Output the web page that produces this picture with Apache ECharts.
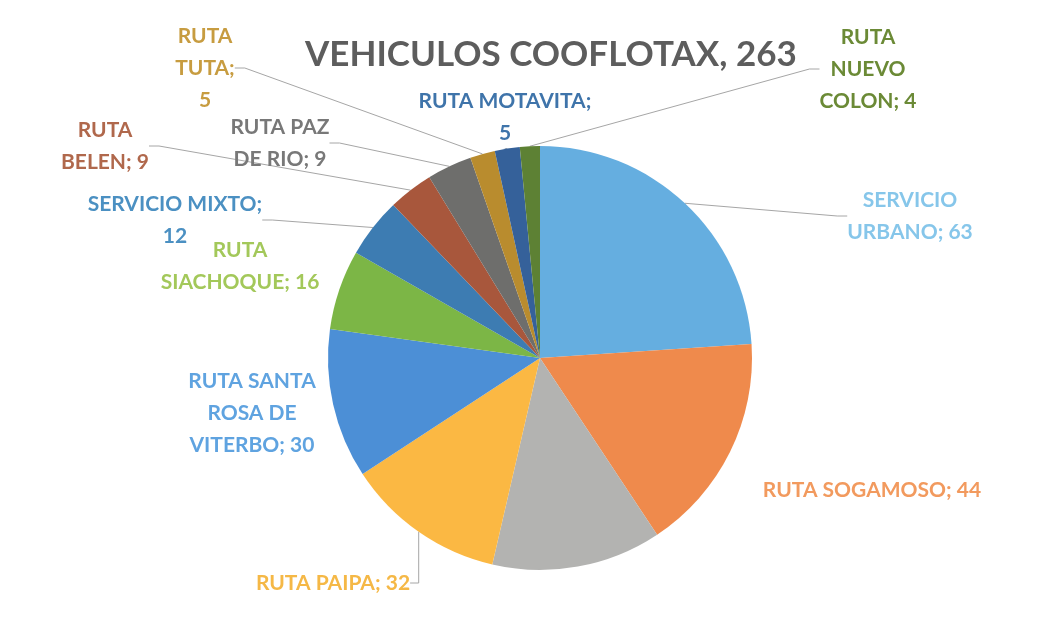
<!DOCTYPE html>
<html>
<head>
<meta charset="utf-8">
<script src="https://cdn.jsdelivr.net/npm/echarts@6/dist/echarts.min.js"></script>
<style>
html, body { margin: 0; padding: 0; background: #fff; }
#chart { width: 1056px; height: 627px; }
</style>
</head>
<body>
<div id="chart"></div>
<script>
// datos del grafico (orden horario desde las 12)
var names = ['SERVICIO URBANO', 'RUTA SOGAMOSO', '', 'RUTA PAIPA', 'RUTA SANTA ROSA DE VITERBO',
    'RUTA SIACHOQUE', 'SERVICIO MIXTO', 'RUTA BELEN', 'RUTA PAZ DE RIO', 'RUTA TUTA',
    'RUTA MOTAVITA', 'RUTA NUEVO COLON'];
var values = [63, 44, 34, 32, 30, 16, 12, 9, 9, 5, 5, 4];
var total = 263;

var sliceColors = ['#65aee0', '#ef8a4c', '#b3b3b1', '#fbb843', '#4c8fd6', '#7cb646',
    '#3d7cb2', '#a8573c', '#6e6e6c', '#b98c2e', '#35619a', '#5d8134'];
var textColors = ['#86c6ea', '#f29a5e', '#999999', '#f5b846', '#5fa3e0', '#a3c85a',
    '#4b90c2', '#b0684c', '#787878', '#c79c40', '#3f74aa', '#6b8a36'];
// palabras por linea de cada etiqueta
var wordsPerLine = [[1, 2], [3], [], [3], [2, 2, 2], [1, 2], [2, 1], [1, 2], [2, 3], [1, 1, 1], [2, 1], [1, 1, 2]];
// centro de cada etiqueta
var labelPos = [[910, 216], [872, 490], [0, 0], [333, 583], [252, 413], [240, 266],
    [175, 220], [105, 146], [280, 143], [205, 68], [505, 117], [868, 69]];
// etiquetas sin linea guia (pegadas a la torta)
var noLine = [1, 4, 5];

function wrapText(txt, counts) {
    var words = txt.split(' ');
    var lines = [], k = 0;
    counts.forEach(function (n) {
        lines.push(words.slice(k, k + n).join(' '));
        k += n;
    });
    return lines.join('\n');
}

var data = names.map(function (n, i) {
    var item = {
        name: n,
        value: values[i],
        itemStyle: { color: sliceColors[i] },
        label: { color: textColors[i] }
    };
    if (noLine.indexOf(i) >= 0) {
        item.labelLine = { show: false };
    }
    if (n === '') {
        item.label = { show: false };
        item.labelLine = { show: false };
    }
    return item;
});

var myChart = echarts.init(document.getElementById('chart'));
var option = {
    backgroundColor: '#fff',
    animation: false,
    title: {
        text: 'VEHICULOS COOFLOTAX, ' + total,
        left: 300,
        top: 32,
        textStyle: {
            fontFamily: 'Lato',
            fontWeight: 'bold',
            fontSize: 35,
            color: '#5d5d5d'
        }
    },
    series: [
        {
            type: 'pie',
            center: [540, 358],
            radius: 212,
            startAngle: 90,
            clockwise: true,
            avoidLabelOverlap: false,
            data: data,
            itemStyle: { borderWidth: 0 },
            label: {
                show: true,
                position: 'outside',
                fontFamily: 'Lato',
                fontWeight: 'bold',
                fontSize: 21,
                lineHeight: 32,
                align: 'center',
                formatter: function (p) {
                    return wrapText(p.name + '; ' + p.value, wordsPerLine[p.dataIndex]);
                }
            },
            labelLine: {
                show: true,
                length: 10,
                length2: 10,
                lineStyle: { color: '#a6a6a6', width: 1 }
            },
            labelLayout: function (p) {
                var pos = labelPos[p.dataIndex];
                return {
                    x: pos[0],
                    y: pos[1],
                    align: 'center',
                    verticalAlign: 'middle'
                };
            }
        }
    ]
};
myChart.setOption(option);
</script>
</body>
</html>
